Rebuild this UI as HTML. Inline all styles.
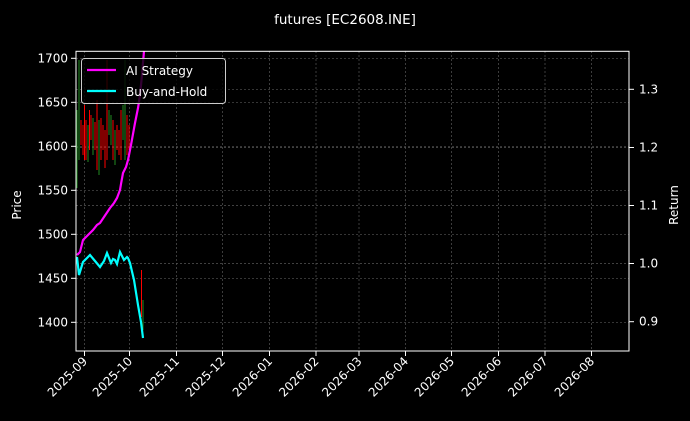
<!DOCTYPE html>
<html><head><meta charset="utf-8"><style>
html,body{margin:0;padding:0;background:#000;}
svg{display:block;font-family:"DejaVu Sans","Liberation Sans",sans-serif;}
</style></head><body>
<svg width="690" height="421" viewBox="0 0 690 421" xmlns="http://www.w3.org/2000/svg">
<rect width="690" height="421" fill="#000"/>
<text x="345" y="24" fill="#fff" font-size="13.5" text-anchor="middle">futures [EC2608.INE]</text>
<g stroke="#555" stroke-width="0.7" stroke-dasharray="2,2">
<line x1="84.5" y1="51" x2="84.5" y2="351"/><line x1="129.5" y1="51" x2="129.5" y2="351"/><line x1="176.5" y1="51" x2="176.5" y2="351"/><line x1="222.5" y1="51" x2="222.5" y2="351"/><line x1="269.5" y1="51" x2="269.5" y2="351"/><line x1="316" y1="51" x2="316" y2="351"/><line x1="359" y1="51" x2="359" y2="351"/><line x1="405.5" y1="51" x2="405.5" y2="351"/><line x1="451.5" y1="51" x2="451.5" y2="351"/><line x1="498.5" y1="51" x2="498.5" y2="351"/><line x1="545" y1="51" x2="545" y2="351"/><line x1="591.5" y1="51" x2="591.5" y2="351"/>
<line x1="76" y1="58.3" x2="629" y2="58.3"/><line x1="76" y1="102.3" x2="629" y2="102.3"/><line x1="76" y1="146.3" x2="629" y2="146.3"/><line x1="76" y1="190.3" x2="629" y2="190.3"/><line x1="76" y1="234.3" x2="629" y2="234.3"/><line x1="76" y1="278.3" x2="629" y2="278.3"/><line x1="76" y1="322.3" x2="629" y2="322.3"/>
<line x1="76" y1="89.3" x2="629" y2="89.3"/><line x1="76" y1="147.5" x2="629" y2="147.5"/><line x1="76" y1="205.5" x2="629" y2="205.5"/><line x1="76" y1="263.5" x2="629" y2="263.5"/>
</g>
<g stroke-width="1">
<line x1="77" y1="110" x2="77" y2="188" stroke="#228b22"/>
<line x1="79" y1="60" x2="79" y2="160" stroke="#228b22"/>
<line x1="81" y1="120" x2="81" y2="145" stroke="#f00"/>
<line x1="83" y1="125" x2="83" y2="155" stroke="#f00"/>
<line x1="84.5" y1="105" x2="84.5" y2="160" stroke="#f00"/>
<line x1="86" y1="120" x2="86" y2="160" stroke="#f00"/>
<line x1="88" y1="125" x2="88" y2="162" stroke="#228b22"/>
<line x1="89.5" y1="110" x2="89.5" y2="150" stroke="#f00"/>
<line x1="91" y1="115" x2="91" y2="140" stroke="#f00"/>
<line x1="93" y1="118" x2="93" y2="155" stroke="#228b22"/>
<line x1="95" y1="122" x2="95" y2="150" stroke="#f00"/>
<line x1="97" y1="100" x2="97" y2="170" stroke="#f00"/>
<line x1="99" y1="120" x2="99" y2="175" stroke="#228b22"/>
<line x1="101" y1="118" x2="101" y2="160" stroke="#f00"/>
<line x1="103" y1="125" x2="103" y2="150" stroke="#f00"/>
<line x1="105" y1="130" x2="105" y2="168" stroke="#f00"/>
<line x1="107" y1="60" x2="107" y2="160" stroke="#f00"/>
<line x1="109" y1="110" x2="109" y2="135" stroke="#228b22"/>
<line x1="111" y1="115" x2="111" y2="145" stroke="#228b22"/>
<line x1="113" y1="120" x2="113" y2="160" stroke="#f00"/>
<line x1="115" y1="130" x2="115" y2="165" stroke="#228b22"/>
<line x1="117" y1="125" x2="117" y2="150" stroke="#f00"/>
<line x1="119" y1="130" x2="119" y2="155" stroke="#f00"/>
<line x1="121" y1="110" x2="121" y2="160" stroke="#f00"/>
<line x1="123" y1="105" x2="123" y2="140" stroke="#228b22"/>
<line x1="125" y1="60" x2="125" y2="160" stroke="#228b22"/>
<line x1="127" y1="115" x2="127" y2="155" stroke="#f00"/>
<line x1="129" y1="125" x2="129" y2="150" stroke="#f00"/>
<line x1="141.5" y1="270" x2="141.5" y2="317" stroke="#f00"/>
<line x1="143" y1="300" x2="143" y2="330" stroke="#228b22"/>
</g>
<polyline fill="none" stroke="#ff00ff" stroke-width="2.2" points="77,255 80,252 83,240 88,235 93,230 97,225 100,223 104,217 110,208 114,203 117,198 120,190 121,184 123,173 126,167 128,160 131,145 135,123 138,108 140,95 142,75 144,51"/>
<polyline fill="none" stroke="#00ffff" stroke-width="2.2" points="77,257 79,275 83,262 87,258 90,255 95,261 100,267 104,261 107,253 111,263 113,259 115,260 117,264 120,252 122,256 124,260 127,257 128,258 130,263 134,280 138,305 141,322 143,338"/>
<rect x="76" y="51.3" width="553" height="299.7" fill="none" stroke="#fff" stroke-width="1"/>
<g stroke="#fff" stroke-width="1">
<line x1="71" y1="58.3" x2="76" y2="58.3"/><line x1="71" y1="102.3" x2="76" y2="102.3"/><line x1="71" y1="146.3" x2="76" y2="146.3"/><line x1="71" y1="190.3" x2="76" y2="190.3"/><line x1="71" y1="234.3" x2="76" y2="234.3"/><line x1="71" y1="278.3" x2="76" y2="278.3"/><line x1="71" y1="322.3" x2="76" y2="322.3"/>
<line x1="629" y1="89.3" x2="634" y2="89.3"/><line x1="629" y1="147.5" x2="634" y2="147.5"/><line x1="629" y1="205.5" x2="634" y2="205.5"/><line x1="629" y1="263.5" x2="634" y2="263.5"/><line x1="629" y1="321.7" x2="634" y2="321.7"/>
<line x1="84.5" y1="351" x2="84.5" y2="356"/><line x1="129.5" y1="351" x2="129.5" y2="356"/><line x1="176.5" y1="351" x2="176.5" y2="356"/><line x1="222.5" y1="351" x2="222.5" y2="356"/><line x1="269.5" y1="351" x2="269.5" y2="356"/><line x1="316" y1="351" x2="316" y2="356"/><line x1="359" y1="351" x2="359" y2="356"/><line x1="405.5" y1="351" x2="405.5" y2="356"/><line x1="451.5" y1="351" x2="451.5" y2="356"/><line x1="498.5" y1="351" x2="498.5" y2="356"/><line x1="545" y1="351" x2="545" y2="356"/><line x1="591.5" y1="351" x2="591.5" y2="356"/>
</g>
<g fill="#fff" font-size="12" text-anchor="end">
<text x="68" y="62.5">1700</text><text x="68" y="106.5">1650</text><text x="68" y="150.5">1600</text><text x="68" y="194.5">1550</text><text x="68" y="238.5">1500</text><text x="68" y="282.5">1450</text><text x="68" y="326.5">1400</text>
</g>
<g fill="#fff" font-size="12">
<text x="639" y="93.5">1.3</text><text x="639" y="151.5">1.2</text><text x="639" y="209.5">1.1</text><text x="639" y="267.5">1.0</text><text x="639" y="325.5">0.9</text>
</g>
<g fill="#fff" font-size="12" text-anchor="end">
<text transform="translate(88,362) rotate(-45)">2025-09</text>
<text transform="translate(133,362) rotate(-45)">2025-10</text>
<text transform="translate(180,362) rotate(-45)">2025-11</text>
<text transform="translate(226,362) rotate(-45)">2025-12</text>
<text transform="translate(273,362) rotate(-45)">2026-01</text>
<text transform="translate(319.5,362) rotate(-45)">2026-02</text>
<text transform="translate(362.5,362) rotate(-45)">2026-03</text>
<text transform="translate(409,362) rotate(-45)">2026-04</text>
<text transform="translate(455,362) rotate(-45)">2026-05</text>
<text transform="translate(502,362) rotate(-45)">2026-06</text>
<text transform="translate(548.5,362) rotate(-45)">2026-07</text>
<text transform="translate(595,362) rotate(-45)">2026-08</text>
</g>
<text transform="translate(21,205) rotate(-90)" fill="#fff" font-size="12" text-anchor="middle">Price</text>
<text transform="translate(678,205) rotate(-90)" fill="#fff" font-size="12" text-anchor="middle">Return</text>
<rect x="81.5" y="58.5" width="144" height="45" rx="3" fill="#000" fill-opacity="0.8" stroke="#ccc" stroke-width="1"/>
<line x1="87" y1="70" x2="116" y2="70" stroke="#ff00ff" stroke-width="2.2"/>
<line x1="87" y1="91" x2="116" y2="91" stroke="#00ffff" stroke-width="2.2"/>
<text x="126" y="75" fill="#fff" font-size="12">AI Strategy</text>
<text x="126" y="96" fill="#fff" font-size="12">Buy-and-Hold</text>
</svg>
</body></html>
